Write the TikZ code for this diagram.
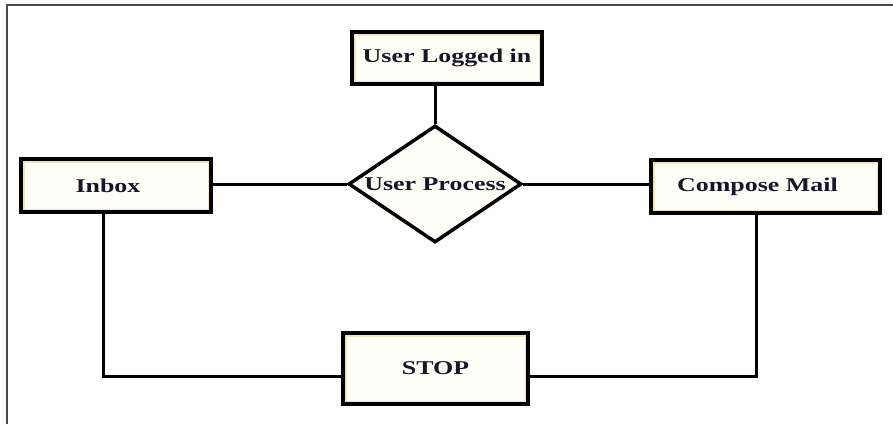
\documentclass[tikz,border=0pt]{standalone}
\usepackage{fontspec}
\setmainfont{Liberation Serif}
\usetikzlibrary{shapes.geometric}

\definecolor{inkdark}{HTML}{16162A}
\definecolor{boxfill}{HTML}{FFFEF7}
\definecolor{boxtan}{HTML}{F0E6BC}
\definecolor{framegray}{HTML}{4A4A4A}

% wide bold label text
\newcommand{\wlabel}[1]{\scalebox{1.33}[1]{\fontsize{19.5}{22}\selectfont\bfseries #1}}

\tikzset{
  x=1pt, y=-1pt,
  procbox/.style={
    rectangle, draw=black, line width=4pt, fill=boxfill,
    inner sep=0pt, text=inkdark,
    path picture={\draw[boxtan, line width=7pt]
      (path picture bounding box.south west) rectangle
      (path picture bounding box.north east);}
  },
  decision/.style={
    diamond, draw=black, line width=3.5pt, fill=boxfill,
    inner sep=0pt, text=inkdark
  },
  link/.style={draw=black, line width=3pt}
}

\begin{document}
\begin{tikzpicture}
  \useasboundingbox (0,0) rectangle (893,424);
  \fill[white] (0,0) rectangle (893,424);

  % page frame
  \draw[framegray, line width=2pt] (7,424) -- (7,4.5) -- (893,4.5);

  % nodes
  \node[procbox, minimum width=190, minimum height=52]
    (login) at (447,58) {\wlabel{User Logged in}};
  \node[decision, minimum width=173, minimum height=117]
    (proc) at (435,184) {};
  \node[text=inkdark] at (proc.center) {\wlabel{User Process}};
  \node[procbox, minimum width=190, minimum height=53]
    (inbox) at (116,185.5) {\hspace*{-16pt}\wlabel{Inbox}};
  \node[procbox, minimum width=229, minimum height=53]
    (compose) at (765.5,186.5) {\hspace*{-16pt}\wlabel{Compose Mail}};
  \node[procbox, minimum width=185, minimum height=71]
    (stop) at (435.5,368.5) {\wlabel{STOP}};

  % corner points of the return paths
  \coordinate (lcorner) at (103,376);
  \coordinate (rcorner) at (756,376);

  % connectors
  \draw[link] (login.south -| proc.north) -- (proc.north);
  \draw[link] (inbox.east |- proc.west) -- (proc.west);
  \draw[link] (proc.east) -- (compose.west |- proc.east);
  \draw[link] (inbox.south -| lcorner) -- (lcorner) -- (stop.west |- lcorner);
  \draw[link] (stop.east |- rcorner) -- (rcorner) -- (compose.south -| rcorner);
\end{tikzpicture}
\end{document}
